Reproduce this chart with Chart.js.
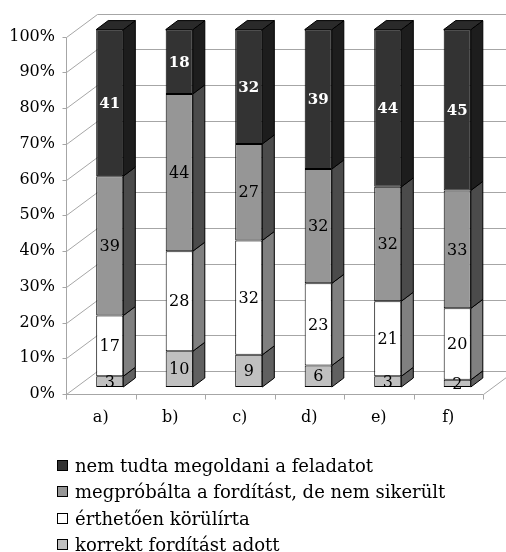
<!DOCTYPE html>
<html>
<head>
<meta charset="utf-8">
<script src="https://cdn.jsdelivr.net/npm/chart.js@4.4.1/dist/chart.umd.min.js"></script>
<style>
  html, body { margin: 0; padding: 0; background: #fff; }
  #wrap { position: relative; width: 506px; height: 552px; overflow: hidden; }
  #legend { position: absolute; left: 57px; top: 452px; font: 18px "DejaVu Serif"; color: #000; }
  .item { height: 26.5px; display: flex; align-items: center; white-space: nowrap; }
  .box { width: 9px; height: 9px; border: 1px solid #000; margin-right: 7px; flex: none; }
</style>
</head>
<body>
<div id="wrap">
  <canvas id="myChart" width="506" height="552"></canvas>
  <div id="legend"></div>
</div>
<script>
const categories = ["a)", "b)", "c)", "d)", "e)", "f)"];
const korrekt = [3, 10, 9, 6, 3, 2];
const korulirta = [17, 28, 32, 23, 21, 20];
const megprobalta = [39, 44, 27, 32, 32, 33];
const nemTudta = [41, 18, 32, 39, 44, 45];

const seriesNames = [
  "korrekt fordítást adott",
  "érthetően körülírta",
  "megpróbálta a fordítást, de nem sikerült",
  "nem tudta megoldani a feladatot",
];

// front / side / top colours for each series (bottom to top)
const fronts = ["#c0c0c0", "#ffffff", "#969696", "#333333"];
const sides = ["#606060", "#808080", "#4b4b4b", "#1d1d1d"];
const topColor = "#2a2a2a";

// 3D offsets relative to the bar plane
const FRONT = { dx: -9, dy: 7 };
const BACK = { dx: 22, dy: -16 };
const DEPTH = { dx: 12, dy: 9 };
const gridColor = "#a6a6a6";

Chart.defaults.font.family = "'DejaVu Serif'";
Chart.defaults.font.size = 16;
Chart.defaults.color = "#000";

function line(ctx, x1, y1, x2, y2) {
  ctx.beginPath();
  ctx.moveTo(x1, y1);
  ctx.lineTo(x2, y2);
  ctx.stroke();
}

const walls = {
  id: "walls",
  beforeDatasetsDraw(chart) {
    const { ctx, scales: { x, y } } = chart;
    const n = categories.length;
    const left = x.getPixelForValue(-0.5);
    const right = x.getPixelForValue(n - 0.5);
    const fl = Math.round(left + FRONT.dx) + 0.5;
    const fr = Math.round(right + FRONT.dx) + 0.5;
    const bl = Math.round(left + BACK.dx) + 0.5;
    const br = Math.round(right + BACK.dx) + 0.5;
    ctx.save();
    ctx.strokeStyle = gridColor;
    ctx.lineWidth = 1;
    y.ticks.forEach((t) => {
      const py = y.getPixelForValue(t.value);
      const fy = Math.round(py + FRONT.dy) + 0.5;
      const by = Math.round(py + BACK.dy) + 0.5;
      line(ctx, fl, fy, bl, by);
      line(ctx, bl, by, br, by);
      line(ctx, fl - 4, fy, fl, fy);
    });
    const f0 = Math.round(y.getPixelForValue(0) + FRONT.dy) + 0.5;
    const f100 = Math.round(y.getPixelForValue(100) + FRONT.dy) + 0.5;
    const b0 = Math.round(y.getPixelForValue(0) + BACK.dy) + 0.5;
    line(ctx, fl, f100, fl, f0);
    line(ctx, fl, f0, fr, f0);
    line(ctx, fr, f0, br, b0);
    for (let i = 0; i <= n; i++) {
      const px = Math.round(x.getPixelForValue(i - 0.5) + FRONT.dx) + 0.5;
      line(ctx, px, f0, px, f0 + 5);
    }
    ctx.restore();
  },
  afterDatasetsDraw(chart) {
    const { ctx } = chart;
    const last = chart.data.datasets.length - 1;
    ctx.save();
    ctx.strokeStyle = "#000";
    ctx.lineWidth = 1;
    ctx.lineJoin = "round";
    chart.data.datasets.forEach((ds, d) => {
      const meta = chart.getDatasetMeta(d);
      meta.data.forEach((bar) => {
        const { x, y, base, width } = bar.getProps(["x", "y", "base", "width"], true);
        const r = x + width / 2;
        const l = x - width / 2;
        ctx.fillStyle = sides[d];
        ctx.beginPath();
        ctx.moveTo(r, y);
        ctx.lineTo(r + DEPTH.dx, y - DEPTH.dy);
        ctx.lineTo(r + DEPTH.dx, base - DEPTH.dy);
        ctx.lineTo(r, base);
        ctx.closePath();
        ctx.fill();
        ctx.stroke();
        if (d === last) {
          ctx.fillStyle = topColor;
          ctx.beginPath();
          ctx.moveTo(l, y);
          ctx.lineTo(l + DEPTH.dx, y - DEPTH.dy);
          ctx.lineTo(r + DEPTH.dx, y - DEPTH.dy);
          ctx.lineTo(r, y);
          ctx.closePath();
          ctx.fill();
          ctx.stroke();
        }
      });
    });
    // value labels on the front faces
    ctx.textAlign = "center";
    ctx.textBaseline = "middle";
    chart.data.datasets.forEach((ds, d) => {
      const meta = chart.getDatasetMeta(d);
      ctx.fillStyle = d === last ? "#fff" : "#000";
      ctx.font = (d === last ? "bold 15px" : "16px") + " 'DejaVu Serif'";
      meta.data.forEach((bar, i) => {
        const { x, y, base } = bar.getProps(["x", "y", "base"], true);
        ctx.fillText(String(ds.data[i]), x, (y + base) / 2 + 1);
      });
    });
    ctx.restore();
  },
};

const seriesData = [korrekt, korulirta, megprobalta, nemTudta];
const datasets = seriesData.map((vals, i) => ({
  label: seriesNames[i],
  data: vals,
  backgroundColor: fronts[i],
  borderColor: "#000",
  borderWidth: 1,
  borderSkipped: false,
  barPercentage: 0.39,
  categoryPercentage: 1,
}));

new Chart(document.getElementById("myChart").getContext("2d"), {
  type: "bar",
  data: { labels: categories, datasets },
  options: {
    responsive: false,
    animation: false,
    layout: { padding: { top: 27, right: 14, left: 0, bottom: 120 } },
    scales: {
      x: {
        stacked: true,
        grid: { display: false, drawTicks: false },
        border: { display: false },
        ticks: { labelOffset: FRONT.dx, padding: 21, maxRotation: 0 },
        afterFit: (s) => { s.height = 45; },
      },
      y: {
        stacked: true,
        min: 0,
        max: 100,
        grid: { display: false, drawTicks: false },
        border: { display: false },
        ticks: { stepSize: 10, labelOffset: FRONT.dy, padding: 20, callback: (v) => v + "%" },
        afterFit: (s) => { s.width = 75; },
      },
    },
    plugins: {
      legend: { display: false },
      tooltip: { enabled: false },
    },
  },
  plugins: [walls],
});

// legend, top series first
const legend = document.getElementById("legend");
for (let i = seriesNames.length - 1; i >= 0; i--) {
  const item = document.createElement("div");
  item.className = "item";
  item.innerHTML = `<span class="box" style="background:${fronts[i]}"></span><span>${seriesNames[i]}</span>`;
  legend.appendChild(item);
}
</script>
</body>
</html>
